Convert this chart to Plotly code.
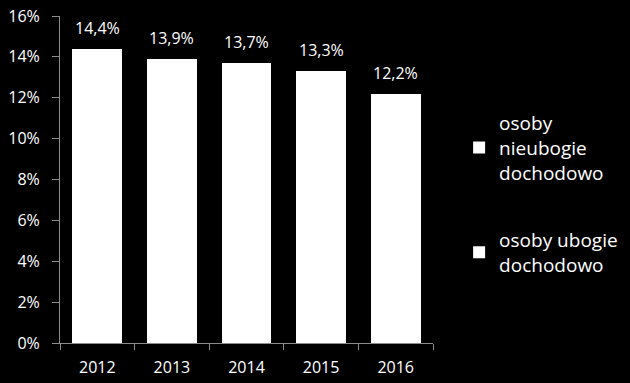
import plotly.graph_objects as go

years = ["2012", "2013", "2014", "2015", "2016"]
ubogie = [14.4, 13.9, 13.7, 13.3, 12.2]
nieubogie = [85.6, 86.1, 86.3, 86.7, 87.8]
y_ticks = [0, 2, 4, 6, 8, 10, 12, 14, 16]
y_tick_labels = [f"{v}%" for v in y_ticks]

FONT = "Open Sans"
WHITE = "#ffffff"
GREY = "#8c8c8c"

fig = go.Figure()
fig.add_trace(go.Bar(
    x=years, y=ubogie, name="osoby ubogie<br>dochodowo",
    marker=dict(color=WHITE, line=dict(width=0)),
    legendgroup="u", legendrank=2, hoverinfo="skip",
))
fig.add_trace(go.Bar(
    x=years, y=nieubogie, name="osoby<br>nieubogie<br>dochodowo",
    marker=dict(color="#000000", line=dict(width=0)),
    showlegend=False, legendgroup="n", hoverinfo="skip",
))
# legend proxy (white swatch) for the black "nieubogie" series
fig.add_trace(go.Bar(
    x=[years[0]], y=[0], name="osoby<br>nieubogie<br>dochodowo",
    marker=dict(color=WHITE, line=dict(width=0)),
    legendgroup="n", legendrank=1, hoverinfo="skip",
))

for i, v in enumerate(ubogie):
    fig.add_annotation(
        x=i, y=v, text=f"{v:.1f}%".replace(".", ","),
        showarrow=False, yanchor="bottom", yshift=8,
        font=dict(family=FONT, size=16, color=WHITE),
    )

fig.update_layout(
    width=630, height=383,
    paper_bgcolor="#000000", plot_bgcolor="#000000",
    margin=dict(l=60, r=197, t=16, b=40, autoexpand=False),
    barmode="stack", bargap=0.33,
    font=dict(family=FONT, size=16, color=WHITE),
    showlegend=True,
    legend=dict(
        x=1.07, xanchor="left", y=0.731, yanchor="top",
        font=dict(family=FONT, size=19, color=WHITE),
        bgcolor="rgba(0,0,0,0)", tracegroupgap=40,
        traceorder="grouped",
    ),
    xaxis=dict(
        type="category", categoryorder="array", categoryarray=years,
        range=[-0.5, len(years) - 0.5], automargin=False,
        showgrid=False, zeroline=False,
        showline=True, linecolor=GREY, linewidth=1,
        ticks="outside", tickson="boundaries", ticklen=6, tickcolor=GREY,
        ticklabelstandoff=10,
        tickfont=dict(family=FONT, size=16, color=WHITE),
    ),
    yaxis=dict(
        range=[0, 16], automargin=False,
        showgrid=False, zeroline=False,
        showline=True, linecolor=GREY, linewidth=1,
        ticks="outside", ticklen=7, tickcolor=GREY,
        tickvals=y_ticks, ticktext=y_tick_labels,
        ticklabelstandoff=9,
        tickfont=dict(family=FONT, size=16, color=WHITE),
    ),
)

fig.write_html(
    "out.html",
    config={"displayModeBar": False},
    post_script="document.body.style.margin='0';document.body.style.background='#000';",
)
